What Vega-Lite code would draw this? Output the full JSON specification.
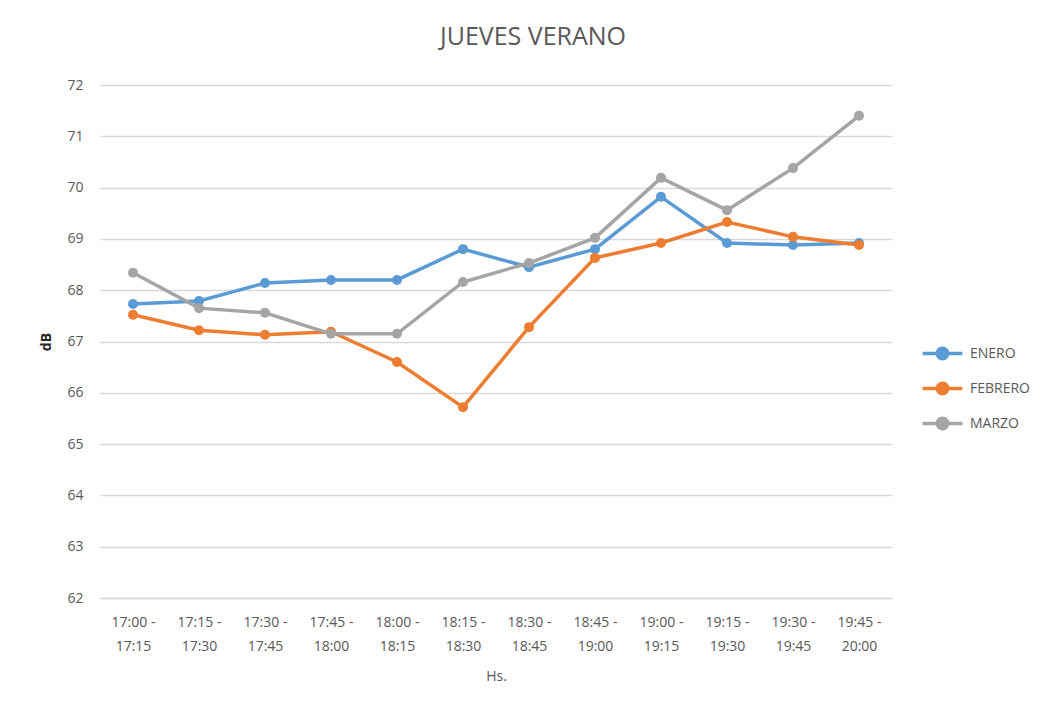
{
  "$schema": "https://vega.github.io/schema/vega-lite/v6.json",
  "autosize": "none",
  "width": 792,
  "height": 513,
  "padding": {"left": 100, "top": 85, "right": 162, "bottom": 108},
  "background": "white",
  "config": {
    "view": {"stroke": null},
    "font": "Open Sans"
  },
  "title": {
    "text": "JUEVES VERANO",
    "font": "Open Sans",
    "fontSize": 25,
    "fontWeight": "normal",
    "color": "#595959",
    "anchor": "middle",
    "dx": 37,
    "offset": 28
  },
  "data": {
    "values": [
      {"t": "17:00 - 17:15", "serie": "ENERO", "v": 67.73},
      {"t": "17:15 - 17:30", "serie": "ENERO", "v": 67.79},
      {"t": "17:30 - 17:45", "serie": "ENERO", "v": 68.14},
      {"t": "17:45 - 18:00", "serie": "ENERO", "v": 68.2},
      {"t": "18:00 - 18:15", "serie": "ENERO", "v": 68.2},
      {"t": "18:15 - 18:30", "serie": "ENERO", "v": 68.8},
      {"t": "18:30 - 18:45", "serie": "ENERO", "v": 68.45},
      {"t": "18:45 - 19:00", "serie": "ENERO", "v": 68.8},
      {"t": "19:00 - 19:15", "serie": "ENERO", "v": 69.82},
      {"t": "19:15 - 19:30", "serie": "ENERO", "v": 68.92},
      {"t": "19:30 - 19:45", "serie": "ENERO", "v": 68.88},
      {"t": "19:45 - 20:00", "serie": "ENERO", "v": 68.92},
      {"t": "17:00 - 17:15", "serie": "FEBRERO", "v": 67.52},
      {"t": "17:15 - 17:30", "serie": "FEBRERO", "v": 67.22},
      {"t": "17:30 - 17:45", "serie": "FEBRERO", "v": 67.13},
      {"t": "17:45 - 18:00", "serie": "FEBRERO", "v": 67.19},
      {"t": "18:00 - 18:15", "serie": "FEBRERO", "v": 66.6},
      {"t": "18:15 - 18:30", "serie": "FEBRERO", "v": 65.72},
      {"t": "18:30 - 18:45", "serie": "FEBRERO", "v": 67.28},
      {"t": "18:45 - 19:00", "serie": "FEBRERO", "v": 68.63},
      {"t": "19:00 - 19:15", "serie": "FEBRERO", "v": 68.92},
      {"t": "19:15 - 19:30", "serie": "FEBRERO", "v": 69.33},
      {"t": "19:30 - 19:45", "serie": "FEBRERO", "v": 69.04},
      {"t": "19:45 - 20:00", "serie": "FEBRERO", "v": 68.88},
      {"t": "17:00 - 17:15", "serie": "MARZO", "v": 68.34},
      {"t": "17:15 - 17:30", "serie": "MARZO", "v": 67.65},
      {"t": "17:30 - 17:45", "serie": "MARZO", "v": 67.56},
      {"t": "17:45 - 18:00", "serie": "MARZO", "v": 67.15},
      {"t": "18:00 - 18:15", "serie": "MARZO", "v": 67.15},
      {"t": "18:15 - 18:30", "serie": "MARZO", "v": 68.16},
      {"t": "18:30 - 18:45", "serie": "MARZO", "v": 68.53},
      {"t": "18:45 - 19:00", "serie": "MARZO", "v": 69.02},
      {"t": "19:00 - 19:15", "serie": "MARZO", "v": 70.19},
      {"t": "19:15 - 19:30", "serie": "MARZO", "v": 69.56},
      {"t": "19:30 - 19:45", "serie": "MARZO", "v": 70.38},
      {"t": "19:45 - 20:00", "serie": "MARZO", "v": 71.4}
    ]
  },
  "encoding": {
    "x": {
      "field": "t",
      "type": "ordinal",
      "sort": null,
      "scale": {"paddingInner": 0, "paddingOuter": 0.5},
      "axis": {
        "title": "Hs.",
        "titleFont": "Open Sans",
        "titleFontSize": 14,
        "titleFontWeight": "normal",
        "titleColor": "#595959",
        "titlePadding": 16,
        "labelAngle": 0,
        "labelFont": "Open Sans",
        "labelFontSize": 14,
        "labelColor": "#595959",
        "labelPadding": 17,
        "labelLineHeight": 24,
        "labelExpr": "[slice(datum.label, 0, 5) + ' -', slice(datum.label, 8)]",
        "ticks": false,
        "domainColor": "#d9d9d9",
        "domainWidth": 1.5,
        "grid": false
      }
    },
    "y": {
      "field": "v",
      "type": "quantitative",
      "scale": {"domain": [62, 72], "nice": false, "zero": false},
      "axis": {
        "title": "dB",
        "titleFont": "Open Sans",
        "titleFontSize": 14,
        "titleFontWeight": "bold",
        "titleColor": "#262626",
        "titlePadding": 13,
        "values": [62, 63, 64, 65, 66, 67, 68, 69, 70, 71, 72],
        "labelOverlap": false,
        "labelFont": "Open Sans",
        "labelFontSize": 14,
        "labelColor": "#595959",
        "labelPadding": 17,
        "ticks": false,
        "domain": false,
        "grid": true,
        "gridColor": "#d9d9d9",
        "gridWidth": 1.5
      }
    },
    "color": {
      "field": "serie",
      "type": "nominal",
      "scale": {
        "domain": ["ENERO", "FEBRERO", "MARZO"],
        "range": ["#5B9BD5", "#ED7D31", "#A5A5A5"]
      },
      "legend": {
        "title": null,
        "orient": "none",
        "legendX": 832,
        "legendY": 258,
        "rowPadding": 10,
        "labelFont": "Open Sans",
        "labelFontSize": 14,
        "labelColor": "#595959",
        "labelOffset": 17,
        "symbolType": "M -2.3 0 L 2.3 0 M 0.6 0 A 0.6 0.6 0 1 1 -0.6 0 A 0.6 0.6 0 1 1 0.6 0 Z",
        "symbolSize": 300,
        "symbolStrokeWidth": 3.5,
        "symbolFillColor": null
      }
    }
  },
  "layer": [
    {
      "mark": {"type": "line", "strokeWidth": 3.5}
    },
    {
      "mark": {"type": "point", "filled": true, "size": 100, "opacity": 1}
    }
  ]
}
